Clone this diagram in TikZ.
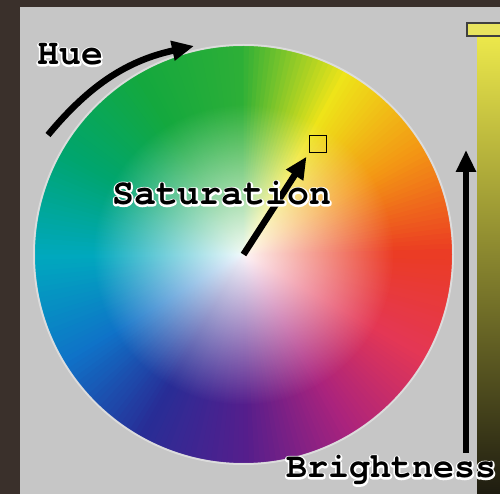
\documentclass[tikz,border=0pt]{standalone}
\usepackage{fontspec}
\setmonofont{texgyrecursor}[Extension=.otf, UprightFont=*-regular, BoldFont=*-bold]
\usetikzlibrary{arrows.meta, fadings, positioning}

\definecolor{frame}{RGB}{58,48,43}
\definecolor{panel}{RGB}{198,198,198}
\definecolor{hA}{RGB}{235,60,35}
\definecolor{hB}{RGB}{243,150,20}
\definecolor{hC}{RGB}{238,228,25}
\definecolor{hD}{RGB}{45,175,55}
\definecolor{hE}{RGB}{20,168,62}
\definecolor{hF}{RGB}{0,165,110}
\definecolor{hG}{RGB}{0,168,190}
\definecolor{hH}{RGB}{15,115,200}
\definecolor{hI}{RGB}{40,45,150}
\definecolor{hJ}{RGB}{85,30,140}
\definecolor{hK}{RGB}{170,35,125}
\definecolor{hL}{RGB}{228,55,85}
\definecolor{bartop}{RGB}{236,232,75}
\definecolor{barbot}{RGB}{30,28,16}
\definecolor{marker}{RGB}{232,228,95}

% white halo round the labels (stroked copy under the black text)
\newcommand\glowtext[1]{\rlap{\color{white}\special{pdf:literal direct 1 Tr 3.4 w 1 j}#1\special{pdf:literal direct 0 Tr}}#1}

\tikzfading[name=wheel fade, inner color=transparent!5, outer color=transparent!100]

\tikzset{
  label text/.style={inner sep=0pt, anchor=base west,
    font=\ttfamily\bfseries\fontsize{36.5}{36.5}\selectfont},
  fat arrow/.style={line width=6.5pt, -{Triangle[length=22pt, width=19pt]}},
}

\begin{document}
\begin{tikzpicture}[x=1pt, y=1pt]
      \useasboundingbox (0,0) rectangle (500,494);

      % Draw the frame and the grey panel.
      \fill[frame] (0,0) rectangle (500,494);
      \fill[panel] (20,0) rectangle (500,487);

      % Draw the colour wheel.
      \coordinate (wheel) at (243.5,239.5);
      \pgfmathsetmacro\R{208.5}
      \foreach \a/\ca/\cb in {0/hA/hB, 30/hB/hC, 60/hC/hD, 90/hD/hE,
        120/hE/hF, 150/hF/hG, 180/hG/hH, 210/hH/hI, 240/hI/hJ,
        270/hJ/hK, 300/hK/hL, 330/hL/hA}
        \foreach \k in {0,...,19}{
          \pgfmathtruncatemacro\p{100-5*\k}
          \pgfmathsetmacro\s{\a+1.5*\k}
          \pgfmathsetmacro\e{\s+3}
          \fill[\ca!\p!\cb] (wheel) -- ++(\s:\R)
            arc[start angle=\s, end angle=\e, radius=\R] -- cycle;
        }
      \fill[white, path fading=wheel fade] (wheel) circle[radius=0.72*\R];
      \draw[white, opacity=0.4, line width=2pt] (wheel) circle[radius=\R+1];

      % Draw the brightness bar and its marker.
      \shade[top color=bartop, bottom color=barbot] (477,0) rectangle (500,458);
      \filldraw[fill=marker, draw=black!75, line width=1.5pt] (467,458) rectangle (505,471);

      % Draw the saturation marker and the arrows.
      \node[draw=black, line width=1.6pt, minimum size=17pt, inner sep=0pt] (satbox) at (318,350) {};
      \draw[fat arrow, shorten >=4pt] (wheel) -- (satbox.south west);

      \coordinate (hueA) at (48,359);
      \coordinate (hueB) at (194,448);
      \draw[fat arrow] (hueA) to[bend left=19] (hueB);

      \coordinate (brightA) at (466,41);
      \coordinate (brightB) at (466,344);
      \draw[fat arrow] (brightA) -- (brightB);

      % Draw the labels.
      \node[label text] (huelbl) at (37,429) {\glowtext{Hue}};
      \node[label text] (satlbl) at (112,289) {\glowtext{Saturation}};
      \node[label text, font=\ttfamily\bfseries\fontsize{35}{35}\selectfont] (brightlbl) at (286,16) {\glowtext{Brightness}};
    \end{tikzpicture}
\end{document}
